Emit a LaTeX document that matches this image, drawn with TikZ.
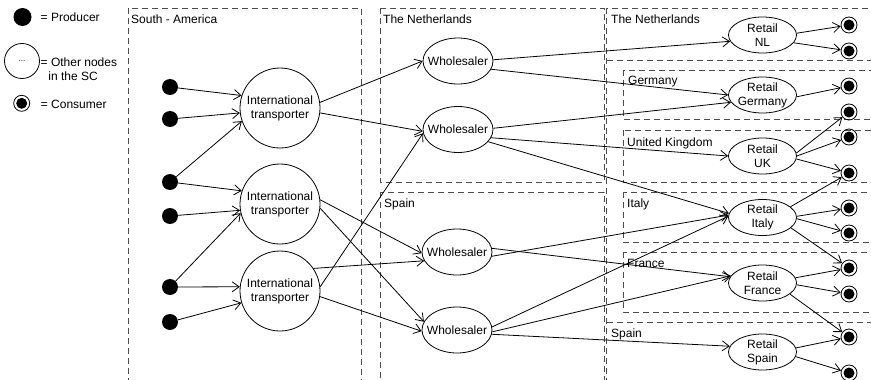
\documentclass[tikz,border=0pt]{standalone}
\usepackage{fontspec}
\setmainfont{Liberation Sans}
\usetikzlibrary{arrows.meta,shapes.geometric}
\begin{document}
\begin{tikzpicture}[x=1pt,y=-1pt,
  lbl/.style={font=\fontsize{12}{14}\selectfont, inner sep=0pt, anchor=base west},
  box/.style={draw=black!70, dash pattern=on 6pt off 4pt, line width=0.8pt},
  prod/.style={circle, fill=black, minimum size=16pt, inner sep=0pt},
  cons/.style={circle, draw, line width=0.8pt, minimum size=16pt, inner sep=0pt,
    path picture={\fill[black] (path picture bounding box.center) circle (5.5pt);}},
  trans/.style={circle, draw, line width=0.8pt, minimum size=80pt, inner sep=0pt,
    align=center, font=\fontsize{12}{14}\selectfont},
  whole/.style={ellipse, draw, line width=0.8pt, minimum width=70pt, minimum height=46pt, inner sep=0pt},
  retail/.style={ellipse, draw, line width=0.8pt, minimum width=68pt, minimum height=36pt, inner sep=0pt},
  intxt/.style={font=\fontsize{12}{14}\selectfont, align=center, inner sep=0pt},
  arr/.style={-{Straight Barb[length=7pt,width=10pt]}, line width=0.8pt},
]
\useasboundingbox (0,0) rectangle (871,380);
\clip (0,0) rectangle (871,380);

% legend
\node[prod, minimum size=18pt] (lp) at (22.5,17) {};
\node[lbl] (lpt) at (40.5,21.3) {= Producer};
\node[circle, draw, line width=0.8pt, minimum size=35pt, inner sep=0pt,
  font=\fontsize{8}{9}\selectfont] (lo) at (22,61) {...};
\node[lbl] (lot1) at (40.5,66) {= Other nodes};
\node[lbl] (lot2) at (48.3,80.3) {in the SC};
\node[cons] (lc) at (21.7,103.3) {};
\node[lbl] (lct) at (40.7,108) {= Consumer};

% dashed region boxes
\draw[box] (128,8) rectangle (361,400);
\draw[box] (380,8) rectangle (604,182);
\draw[box] (380,192) rectangle (604,400);
\draw[box] (606.5,8) rectangle (890,400);
\draw[box] (606.5,60) -- (890,60);
\draw[box] (606.5,322) -- (890,322);
\draw[box] (623,70) rectangle (890,119);
\draw[box] (623,130) rectangle (890,182);
\draw[box] (623,192) rectangle (890,242);
\draw[box] (623,252) rectangle (890,312);

\node[lbl] (l1) at (131,23.3) {South - America};
\node[lbl] (l2) at (383,23.3) {The Netherlands};
\node[lbl] (l3) at (384,207.3) {Spain};
\node[lbl] (l4) at (611,23.3) {The Netherlands};
\node[lbl] (l5) at (628,84.3) {Germany};
\node[lbl] (l6) at (627,146.3) {United Kingdom};
\node[lbl] (l7) at (627,207.3) {Italy};
\node[lbl] (l8) at (627,267.3) {France};
\node[lbl] (l9) at (611,337.3) {Spain};

% producers
\node[prod] (p1) at (170,87) {};
\node[prod] (p2) at (170,119) {};
\node[prod] (p3) at (170,182) {};
\node[prod] (p4) at (170,216) {};
\node[prod] (p5) at (170,287) {};
\node[prod] (p6) at (170,322) {};

% transporters
\node[trans] (t1) at (280,108) {International\\transporter};
\node[trans] (t2) at (280,204) {International\\transporter};
\node[trans] (t3) at (280,291) {International\\transporter};

% wholesalers
\node[whole, label={[intxt]center:Wholesaler}] (w1) at (458,61) {};
\node[whole, label={[intxt]center:Wholesaler}] (w2) at (458,129.5) {};
\node[whole, label={[intxt]center:Wholesaler}] (w3) at (457,252) {};
\node[whole, label={[intxt]center:Wholesaler}] (w4) at (457,330) {};

% retail
\node[retail, label={[intxt]center:Retail\\NL}] (rnl) at (762.5,35) {};
\node[retail, label={[intxt]center:Retail\\Germany}] (rde) at (762.5,95) {};
\node[retail, label={[intxt]center:Retail\\UK}] (ruk) at (762.5,156) {};
\node[retail, label={[intxt]center:Retail\\Italy}] (rit) at (762.5,217.5) {};
\node[retail, label={[intxt]center:Retail\\France}] (rfr) at (762.5,283) {};
\node[retail, label={[intxt]center:Retail\\Spain}] (res) at (762.5,352) {};

% consumers
\node[cons] (c1) at (849,25) {};
\node[cons] (c2) at (849,51) {};
\node[cons] (c3) at (849,86) {};
\node[cons] (c4) at (849,112) {};
\node[cons] (c5) at (849,137) {};
\node[cons] (c6) at (849,173) {};
\node[cons] (c7) at (849,208) {};
\node[cons] (c8) at (849,233) {};
\node[cons] (c9) at (849,268) {};
\node[cons] (c10) at (849,294) {};
\node[cons] (c11) at (849,337) {};
\node[cons] (c12) at (849,373) {};

% producers -> transporters
\draw[arr] (p1) -- (t1.162);
\draw[arr] (p2) -- (t1.187);
\draw[arr] (p3) -- (t1.199);
\draw[arr] (p3) -- (t2.161);
\draw[arr] (p4) -- (t2.189);
\draw[arr] (p5) -- (t2.193);
\draw[arr] (p5) -- (t3.174);
\draw[arr] (p6) -- (t3.197);

% transporters -> wholesalers
\draw[arr] (t1.8) -- (w1.180);
\draw[arr] (t1.353) -- (w2.183);
\draw[arr] (t2.6) -- (w3.182);
\draw[arr] (t2.354) -- (w4.166);
\draw[arr] (t3.6) -- (w2.186);
\draw[arr] (t3.34) -- (w3.195);
\draw[arr] (t3.352) -- (w4.182);

% wholesalers -> retail
\draw[arr] (w1.2) -- (rnl.191);
\draw[arr] (w1.346) -- (rde.180);
\draw[arr] (w2.2) -- (rde.193);
\draw[arr] (w2.346) -- (ruk.180);
\draw[arr] (w2.338) -- (rit.173);
\draw[arr] (w3.353) -- (rit.176);
\draw[arr] (w3.6) -- (rfr.169);
\draw[arr] (w4.5) -- (rit.178);
\draw[arr] (w4.357) -- (rfr.167);
\draw[arr] (w4.353) -- (res.170);

% retail -> consumers
\draw[arr] (rnl.3) -- (c1);
\draw[arr] (rnl.346) -- (c2);
\draw[arr] (rde.357) -- (c3);
\draw[arr] (ruk.5) -- (c4);
\draw[arr] (ruk.0) -- (c5);
\draw[arr] (ruk.355) -- (c6);
\draw[arr] (rit.21) -- (c6);
\draw[arr] (rit.2) -- (c7);
\draw[arr] (rit.358) -- (c8);
\draw[arr] (rit.340) -- (c9);
\draw[arr] (rfr.9) -- (c9);
\draw[arr] (rfr.357) -- (c10);
\draw[arr] (rfr.338) -- (c11);
\draw[arr] (res.7) -- (c11);
\draw[arr] (res.352) -- (c12);
\end{tikzpicture}
\end{document}
